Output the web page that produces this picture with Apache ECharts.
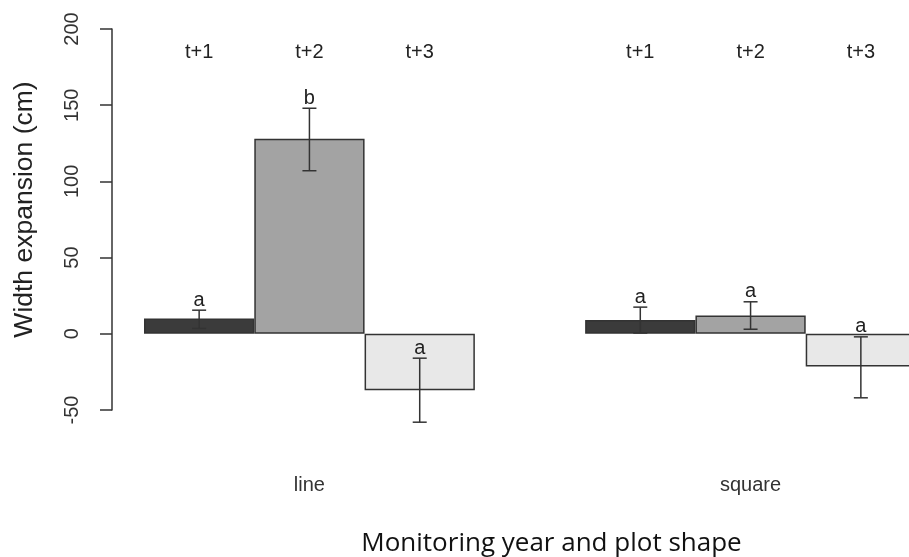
<!DOCTYPE html>
<html>
<head>
<meta charset="utf-8">
<script src="https://cdn.jsdelivr.net/npm/echarts@6/dist/echarts.min.js"></script>
<style>html,body{margin:0;padding:0;background:#fff}#c{width:909px;height:557px}</style>
</head>
<body>
<div id="c"></div>
<script>
var yearLabels = ['t+1', 't+2', 't+3', '', 't+1', 't+2', 't+3'];
var shapeLabels = ['', 'line', '', '', '', 'square', ''];
var means = [10, 128, -37, null, 9, 12, -21.5];
var lower = [3.5, 107, -58, null, 0.5, 3, -42];
var upper = [15.5, 148, -16, null, 17.5, 21, -2];
var letters = ['a', 'b', 'a', '', 'a', 'a', 'a'];
var fills = ['#3b3b3b', '#a3a3a3', '#e8e8e8', '#ffffff', '#3b3b3b', '#a3a3a3', '#e8e8e8'];
var yTicks = [-50, 0, 50, 100, 150, 200];

var barData = means.map(function (v, i) {
  return v === null ? '-' : { value: v, itemStyle: { color: fills[i] } };
});
var errData = [];
means.forEach(function (v, i) {
  if (v !== null) errData.push([i, lower[i], upper[i], letters[i]]);
});

var chart = echarts.init(document.getElementById('c'));
chart.setOption({
  animation: false,
  grid: { left: 144, right: -7, top: 29, bottom: 147, containLabel: false, outerBoundsMode: 'none' },
  xAxis: [{
    type: 'category',
    data: shapeLabels,
    position: 'bottom',
    axisLine: { show: false },
    axisTick: { show: false },
    axisLabel: { interval: 0, margin: 65, color: '#333', fontSize: 20, fontFamily: 'Liberation Sans' },
    name: 'Monitoring year and plot shape',
    nameLocation: 'middle',
    nameGap: 121,
    nameTextStyle: { fontSize: 26, color: '#111', fontFamily: 'Open Sans', padding: [0, 0, 0, 43] }
  }, {
    type: 'category',
    data: yearLabels,
    position: 'top',
    offset: -37,
    axisLine: { show: false },
    axisTick: { show: false },
    axisLabel: { interval: 0, margin: 4, color: '#222', fontSize: 20, fontFamily: 'Liberation Sans' }
  }],
  yAxis: {
    type: 'value',
    min: yTicks[0],
    max: yTicks[yTicks.length - 1],
    interval: 50,
    offset: 32,
    splitLine: { show: false },
    axisLine: { show: true, lineStyle: { color: '#333', width: 1.5 } },
    axisTick: { show: true, length: 12, lineStyle: { color: '#333', width: 1.5 } },
    axisLabel: { rotate: 90, margin: 30, color: '#333', fontSize: 20, fontFamily: 'Liberation Sans' },
    name: 'Width expansion (cm)',
    nameLocation: 'middle',
    nameGap: 74,
    nameRotate: 90,
    nameTextStyle: { fontSize: 26.5, color: '#222', fontFamily: 'Liberation Sans', padding: [0, 0, 0, 20] }
  },
  series: [{
    type: 'bar',
    data: barData,
    barWidth: '100%',
    barGap: '0%',
    itemStyle: { borderColor: '#333', borderWidth: 1.5 }
  }, {
    type: 'custom',
    clip: false,
    data: errData,
    z: 5,
    renderItem: function (params, api) {
      var x = api.value(0);
      var lo = api.coord([x, api.value(1)]);
      var hi = api.coord([x, api.value(2)]);
      var cap = 7;
      var st = { stroke: '#333', lineWidth: 1.5 };
      return {
        type: 'group',
        children: [
          { type: 'line', shape: { x1: lo[0], y1: lo[1], x2: hi[0], y2: hi[1] }, style: st },
          { type: 'line', shape: { x1: lo[0] - cap, y1: lo[1], x2: lo[0] + cap, y2: lo[1] }, style: st },
          { type: 'line', shape: { x1: hi[0] - cap, y1: hi[1], x2: hi[0] + cap, y2: hi[1] }, style: st },
          { type: 'text', style: { text: letters[x], x: hi[0], y: hi[1], align: 'center', verticalAlign: 'bottom', fontSize: 20, fill: '#222', fontFamily: 'Liberation Sans' } }
        ]
      };
    }
  }]
});
</script>
</body>
</html>
